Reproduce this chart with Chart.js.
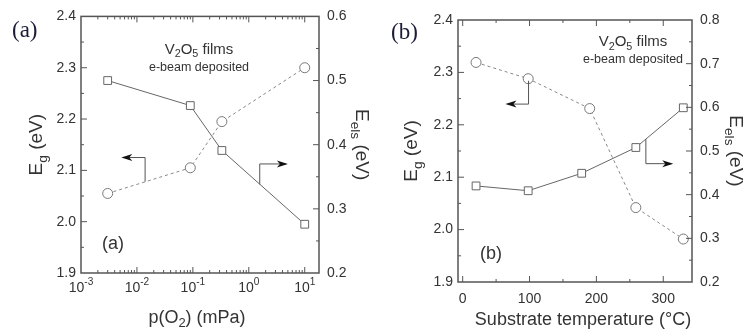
<!DOCTYPE html>
<html>
<head>
<meta charset="utf-8">
<script src="https://cdn.jsdelivr.net/npm/chart.js@4/dist/chart.umd.min.js"></script>
<style>
  body { margin: 0; background: #fff; }
  #wrap { position: relative; width: 751px; height: 336px; }
  canvas { position: absolute; top: 0; }
</style>
</head>
<body>
<div id="wrap">
  <canvas id="chartA" width="378" height="336" style="left:0"></canvas>
  <canvas id="chartB" width="373" height="336" style="left:378px"></canvas>
</div>
<script>
// panel (a): oxygen partial pressure
const pressure = [0.003, 0.09, 0.33, 10];
const egPressure = [2.055, 2.105, 2.195, 2.30];
const eelsPressure = [0.50, 0.461, 0.391, 0.276];
const pressureTicks = [0.001, 0.01, 0.1, 1, 10];
const pressureExp = ['-3', '-2', '-1', '0', '1'];

// panel (b): substrate temperature
const tempCircle = [20, 98, 190, 259, 330];
const egTemp = [2.319, 2.288, 2.231, 2.042, 1.982];
const tempSquare = [20, 98, 178, 259, 330];
const eelsTemp = [0.42, 0.409, 0.449, 0.508, 0.599];
const tempTicks = [0, 100, 200, 300];

const FONT = "'Liberation Sans', Arial, sans-serif";
const INK = '#333';

function toXY(xs, ys) {
    return xs.map((x, i) => ({ x: x, y: ys[i] }));
}

// draw text made of pieces, some of them sub/superscript
function rich(ctx, x, y, parts, size, align, rot) {
    ctx.save();
    ctx.translate(x, y);
    ctx.rotate(rot || 0);
    ctx.textBaseline = 'middle';
    ctx.textAlign = 'left';
    ctx.fillStyle = INK;
    let w = 0;
    parts.forEach(p => {
        ctx.font = (p[1] ? size * 0.72 : size) + 'px ' + FONT;
        w += ctx.measureText(p[0]).width;
    });
    let cx = align === 'center' ? -w / 2 : (align === 'right' ? -w : 0);
    parts.forEach(p => {
        ctx.font = (p[1] ? size * 0.72 : size) + 'px ' + FONT;
        let dy = p[1] === 'sub' ? size * 0.32 : (p[1] === 'sup' ? -size * 0.38 : 0);
        ctx.fillText(p[0], cx, dy);
        cx += ctx.measureText(p[0]).width;
    });
    ctx.restore();
}

function arrow(ctx, chart, pts, yId) {
    const sx = chart.scales.x, sy = chart.scales[yId];
    const p = pts.map(q => [sx.getPixelForValue(q[0]), sy.getPixelForValue(q[1])]);
    ctx.save();
    ctx.strokeStyle = '#555';
    ctx.lineWidth = 1;
    ctx.beginPath();
    ctx.moveTo(p[0][0], p[0][1]);
    for (let i = 1; i < p.length; i++) ctx.lineTo(p[i][0], p[i][1]);
    ctx.stroke();
    const a = p[p.length - 1], b = p[p.length - 2];
    const ang = Math.atan2(a[1] - b[1], a[0] - b[0]);
    ctx.translate(a[0], a[1]);
    ctx.rotate(ang);
    ctx.fillStyle = '#111';
    ctx.beginPath();
    ctx.moveTo(2, 0);
    ctx.lineTo(-9, -3.5);
    ctx.lineTo(-6, 0);
    ctx.lineTo(-9, 3.5);
    ctx.closePath();
    ctx.fill();
    ctx.restore();
}

const decor = {
    id: 'decor',
    afterDraw(chart, args, o) {
        const { ctx, chartArea: a, scales } = chart;
        ctx.save();
        ctx.strokeStyle = '#555';
        ctx.lineWidth = 1.5;
        ctx.strokeRect(a.left, a.top, a.right - a.left, a.bottom - a.top);
        ctx.lineWidth = 1;
        ctx.beginPath();
        // x ticks, top and bottom, pointing inwards
        o.xTicks.forEach(t => {
            const px = scales.x.getPixelForValue(t[0]);
            if (px < a.left + 1 || px > a.right - 1) return;
            ctx.moveTo(px, a.bottom); ctx.lineTo(px, a.bottom - t[1]);
            ctx.moveTo(px, a.top); ctx.lineTo(px, a.top + t[1]);
        });
        o.yTicks.forEach(t => {
            const py = scales.y.getPixelForValue(t[0]);
            if (py < a.top + 1 || py > a.bottom - 1) return;
            ctx.moveTo(a.left, py); ctx.lineTo(a.left + t[1], py);
        });
        o.y1Ticks.forEach(t => {
            const py = scales.y1.getPixelForValue(t[0]);
            if (py < a.top + 1 || py > a.bottom - 1) return;
            ctx.moveTo(a.right, py); ctx.lineTo(a.right - t[1], py);
        });
        ctx.stroke();
        ctx.restore();

        // x tick labels
        o.xLabels.forEach(l => {
            rich(ctx, scales.x.getPixelForValue(l[0]), a.bottom + o.xLabelGap, l[1], 14, 'center');
        });
        // axis titles
        rich(ctx, o.yTitleX, (a.top + a.bottom) / 2, [['E', ''], ['g', 'sub'], [' (eV)', '']], 19, 'center', -Math.PI / 2);
        rich(ctx, o.y1TitleX, (a.top + a.bottom) / 2, [['E', ''], ['els', 'sub'], [' (eV)', '']], 19, 'center', Math.PI / 2);
        rich(ctx, (a.left + a.right) / 2 + o.xTitleDx, o.xTitleY, o.xTitle, 18, 'center');
        // notes inside the plot
        rich(ctx, o.noteX, a.top + o.noteDy, [['V', ''], ['2', 'sub'], ['O', ''], ['5', 'sub'], [' films', '']], 15, 'center');
        rich(ctx, o.noteX, a.top + o.noteDy + 18, [['e-beam deposited', '']], 12.5, 'center');
        rich(ctx, o.tagX, o.tagY, [[o.tag, '']], 18, 'center');
        // big panel letter
        ctx.save();
        ctx.font = '23px "Liberation Serif", "Times New Roman", serif';
        ctx.fillStyle = '#1c1c3a';
        ctx.textBaseline = 'middle';
        ctx.fillText(o.tag, o.bigX, o.bigY);
        ctx.restore();
        // arrows
        o.arrows.forEach(ar => arrow(ctx, chart, ar.pts, ar.axis));
    }
};

function yTickList(min, max, step) {
    const out = [];
    const n = Math.round((max - min) / step);
    for (let i = 0; i <= n; i++) out.push([min + i * step, i % 2 === 0 ? 6 : 3]);
    return out;
}

function makePanel(id, cfg) {
    const W = cfg.W, H = 336;
    return new Chart(document.getElementById(id).getContext('2d'), {
        type: 'line',
        data: {
            datasets: [{
                data: cfg.circles,
                yAxisID: 'y',
                borderColor: '#888',
                borderWidth: 1,
                borderDash: [3, 3],
                pointStyle: 'circle',
                pointRadius: 5,
                pointBorderColor: '#777',
                pointBackgroundColor: '#fff',
                pointBorderWidth: 1,
                tension: 0,
            }, {
                data: cfg.squares,
                yAxisID: 'y1',
                borderColor: '#666',
                borderWidth: 1,
                pointStyle: 'rect',
                pointRadius: 5.5,
                pointBorderColor: '#666',
                pointBackgroundColor: '#fff',
                pointBorderWidth: 1,
                tension: 0,
            }],
        },
        options: {
            responsive: false,
            animation: false,
            layout: { padding: { top: cfg.top, left: 0, right: 0, bottom: 0 } },
            plugins: {
                legend: { display: false },
                tooltip: { enabled: false },
                decor: cfg.decor,
            },
            scales: {
                x: Object.assign({
                    min: cfg.xMin,
                    max: cfg.xMax,
                    grid: { display: false },
                    border: { display: false },
                    ticks: { display: false },
                    afterFit: s => { s.height = H - cfg.bottom; },
                }, cfg.xType ? { type: cfg.xType } : { type: 'linear' }),
                y: {
                    position: 'left',
                    min: 1.9,
                    max: 2.4,
                    grid: { display: false, drawTicks: false },
                    border: { display: false },
                    ticks: {
                        stepSize: 0.1,
                        padding: 5,
                        color: INK,
                        font: { family: FONT, size: 14 },
                        callback: v => v.toFixed(1),
                    },
                    afterFit: s => { s.width = cfg.left; },
                },
                y1: {
                    position: 'right',
                    min: cfg.y1Min,
                    max: cfg.y1Max,
                    grid: { display: false, drawTicks: false },
                    border: { display: false },
                    ticks: {
                        stepSize: 0.1,
                        padding: 8,
                        color: INK,
                        font: { family: FONT, size: 14 },
                        callback: v => v.toFixed(1),
                    },
                    afterFit: s => { s.width = W - cfg.right; },
                },
            },
        },
        plugins: [decor],
    });
}

// log minor ticks for the pressure axis
const logTicks = [];
for (let d = -3; d <= 1; d++) {
    for (let k = 1; k <= 9; k++) logTicks.push([k * Math.pow(10, d), k === 1 ? 6 : 3]);
}
const tempTickMarks = [];
for (let v = 0; v <= 300; v += 50) tempTickMarks.push([v, v % 100 === 0 ? 6 : 3]);

makePanel('chartA', {
    W: 378, left: 81, right: 319, top: 16, bottom: 273,
    xType: 'logarithmic', xMin: 0.001, xMax: 18,
    y1Min: 0.2, y1Max: 0.6,
    circles: toXY(pressure, egPressure),
    squares: toXY(pressure, eelsPressure),
    decor: {
        xTicks: logTicks,
        yTicks: yTickList(1.9, 2.4, 0.05),
        y1Ticks: yTickList(0.2, 0.6, 0.05),
        xLabels: pressureTicks.map((v, i) => [v, [['10', ''], [pressureExp[i], 'sup']]]),
        xLabelGap: 15,
        xTitle: [['p(O', ''], ['2', 'sub'], [') (mPa)', '']],
        xTitleDx: -3, xTitleY: 318,
        yTitleX: 37, y1TitleX: 361,
        noteX: 199, noteDy: 33,
        tag: '(a)', tagX: 113, tagY: 244,
        bigX: 12, bigY: 31,
        arrows: [
            { axis: 'y', pts: [[0.014, 2.078], [0.014, 2.125], [0.0057, 2.125]] },
            { axis: 'y1', pts: [[1.57, 0.338], [1.57, 0.370], [4.6, 0.370]] },
        ],
    },
});

makePanel('chartB', {
    W: 373, left: 80, right: 314, top: 20, bottom: 282,
    xMin: -7, xMax: 343,
    y1Min: 0.2, y1Max: 0.8,
    circles: toXY(tempCircle, egTemp),
    squares: toXY(tempSquare, eelsTemp),
    decor: {
        xTicks: tempTickMarks,
        yTicks: yTickList(1.9, 2.4, 0.05),
        y1Ticks: yTickList(0.2, 0.8, 0.05),
        xLabels: tempTicks.map(v => [v, [[String(v), '']]]),
        xLabelGap: 17,
        xTitle: [['Substrate temperature (°C)', '']],
        xTitleDx: 8, xTitleY: 320,
        yTitleX: 34, y1TitleX: 357,
        noteX: 255, noteDy: 22,
        tag: '(b)', tagX: 113, tagY: 254,
        bigX: 13, bigY: 33,
        arrows: [
            { axis: 'y', pts: [[98.5, 2.284], [98.5, 2.2395], [67, 2.2395]] },
            { axis: 'y1', pts: [[274, 0.527], [274, 0.471], [312, 0.471]] },
        ],
    },
});
</script>
</body>
</html>
